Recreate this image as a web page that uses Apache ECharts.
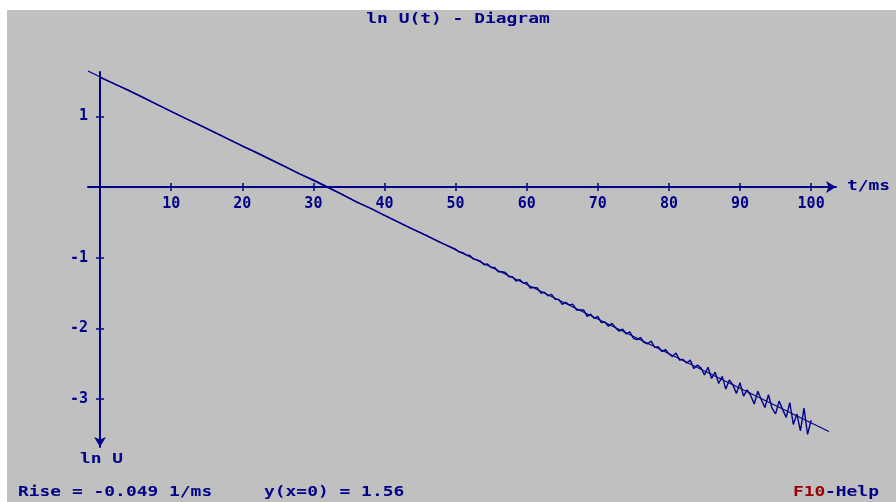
<!DOCTYPE html>
<html><head><meta charset="utf-8">
<script src="https://cdn.jsdelivr.net/npm/echarts@6/dist/echarts.min.js"></script>
<style>html,body{margin:0;padding:0;background:#fff}#c{width:896px;height:502px}</style>
</head><body><div id="c"></div>
<script>
// measured ln U(t) curve
const timesMs = [0,2,4,6,8,10,12,14,16,18,20,22,24,26,28,30,32,34,36,38,40,42,44,46,48,
  50,50.5,51,51.5,52,52.5,53,53.5,54,54.5,55,55.5,56,56.5,57,57.5,58,58.5,59,59.5,
  60,60.5,61,61.5,62,62.5,63,63.5,64,64.5,65,65.5,66,66.5,67,67.5,68,68.5,69,69.5,
  70,70.5,71,71.5,72,72.5,73,73.5,74,74.5,75,75.5,76,76.5,77,77.5,78,78.5,79,79.5,
  80,80.5,81,81.5,82,82.5,83,83.5,84,84.5,85,85.5,86,86.5,87,87.5,88,88.5,89,89.5,
  90,90.5,91,91.5,92,92.5,93,93.5,94,94.5,95,95.5,96,96.5,97,97.5,98,98.5,99,99.5,100];
const lnU = [1.55,1.46,1.37,1.27,1.17,1.07,0.97,0.88,0.78,0.68,0.58,0.49,0.39,0.29,0.19,0.10,0.00,-0.10,-0.21,-0.30,-0.40,-0.50,-0.60,-0.69,-0.79,
  -0.88,-0.92,-0.93,-0.96,-0.97,-1.02,-1.03,-1.05,-1.10,-1.09,-1.14,-1.14,-1.20,-1.20,-1.21,-1.27,-1.27,-1.33,-1.31,-1.36,
  -1.35,-1.43,-1.42,-1.43,-1.50,-1.49,-1.54,-1.52,-1.59,-1.59,-1.66,-1.63,-1.67,-1.66,-1.74,-1.74,-1.74,-1.83,-1.80,-1.86,
  -1.83,-1.92,-1.91,-1.97,-1.93,-1.99,-2.04,-2.01,-2.08,-2.05,-2.14,-2.16,-2.13,-2.20,-2.22,-2.18,-2.27,-2.26,-2.33,-2.30,
  -2.36,-2.40,-2.35,-2.45,-2.44,-2.49,-2.45,-2.57,-2.52,-2.56,-2.66,-2.55,-2.71,-2.62,-2.78,-2.68,-2.86,-2.73,-2.80,-2.92,
  -2.77,-2.96,-2.87,-2.95,-3.07,-2.89,-3.01,-3.12,-2.94,-3.13,-3.21,-3.03,-3.15,-3.26,-3.05,-3.36,-3.21,-3.45,-3.13,-3.50,-3.30];
// regression line endpoints (Rise = -0.049 1/ms, y(x=0) = 1.56)
const fitT = [-1.7, 102.5];
const fitLnU = [1.64, -3.46];
const xTicks = [10,20,30,40,50,60,70,80,90,100];
const yTicks = [-3,-2,-1,1];
const titleText = 'ln U(t) - Diagram';
const xName = 't/ms';
const yName = 'ln U';
const riseText = 'Rise = -0.049 1/ms';
const interceptText = 'y(x=0) = 1.56';

const NAVY = '#000088';
const FONT = 'DejaVu Sans Mono';
const chart = echarts.init(document.getElementById('c'), null, {renderer: 'canvas'});

function txt(x, y, s, fill, align) {
  return {
    type: 'text', x: x, y: y, scaleX: 1.28, z: 10,
    style: {text: s, fill: fill || NAVY, font: 'bold 14px ' + FONT, textAlign: align || 'left', textVerticalAlign: 'middle'}
  };
}
const labelStyle = {color: NAVY, fontFamily: FONT, fontWeight: 'bold', fontSize: 15};

chart.setOption({
  animation: false,
  backgroundColor: '#ffffff',
  graphic: [
    {type: 'rect', shape: {x: 7, y: 10, width: 889, height: 492}, style: {fill: '#c0c0c0'}, z: -10},
    txt(458, 19, titleText, NAVY, 'center'),
    txt(847, 186, xName),
    txt(80, 459, yName),
    txt(18, 492, riseText),
    txt(264, 492, interceptText),
    txt(793, 492, 'F10', '#990000'),
    txt(825, 492, '-Help')
  ],
  grid: {left: 88, top: 72, width: 748, height: 375, containLabel: false},
  xAxis: [{
    type: 'value', min: -1.7, max: 103.5, position: 'bottom', offset: -260,
    axisLine: {onZero: false, lineStyle: {color: NAVY, width: 2}, symbol: ['none', 'arrow'], symbolSize: [9, 10]},
    axisTick: {show: true, length: 4, customValues: xTicks, lineStyle: {color: NAVY, width: 1.5}},
    axisLabel: Object.assign({customValues: xTicks, margin: 10}, labelStyle),
    splitLine: {show: false}
  }, {
    type: 'value', min: -1.7, max: 103.5, position: 'top', offset: -115,
    axisLine: {show: false, onZero: false},
    axisTick: {show: true, length: 4, customValues: xTicks, lineStyle: {color: NAVY, width: 1.5}},
    axisLabel: {show: false},
    splitLine: {show: false}
  }],
  yAxis: [{
    type: 'value', min: -3.679, max: 1.627, position: 'left', offset: -12,
    axisLine: {onZero: false, lineStyle: {color: NAVY, width: 2}, symbol: ['arrow', 'none'], symbolSize: [9, 10]},
    axisTick: {show: true, length: 4, customValues: yTicks, lineStyle: {color: NAVY, width: 1.5}},
    axisLabel: Object.assign({customValues: yTicks, margin: 12}, labelStyle),
    splitLine: {show: false}
  }, {
    type: 'value', min: -3.679, max: 1.627, position: 'right', offset: -736,
    axisLine: {show: false, onZero: false},
    axisTick: {show: true, length: 4, customValues: yTicks, lineStyle: {color: NAVY, width: 1.5}},
    axisLabel: {show: false},
    splitLine: {show: false}
  }],
  series: [
    {type: 'line', data: timesMs.map((t, i) => [t, lnU[i]]), showSymbol: false, lineStyle: {color: NAVY, width: 1.4}},
    {type: 'line', data: fitT.map((t, i) => [t, fitLnU[i]]), showSymbol: false, clip: false, lineStyle: {color: NAVY, width: 1.2}}
  ]
});
</script></body></html>
